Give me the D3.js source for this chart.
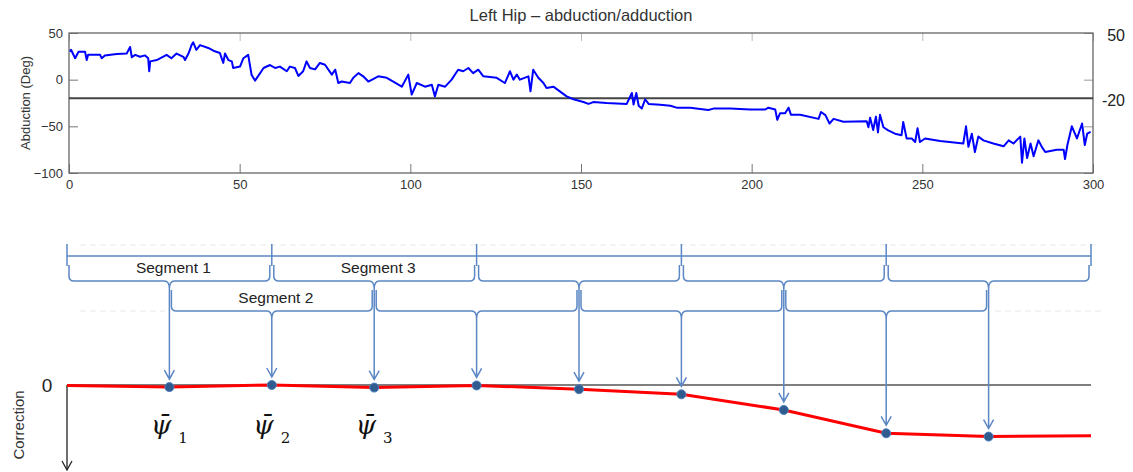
<!DOCTYPE html>
<html>
<head>
<meta charset="utf-8">
<script src="https://d3js.org/d3.v7.min.js"></script>
<style>
body { margin: 0; background: #fff; }
svg { display: block; font-family: 'Liberation Sans', Arial, sans-serif; }
</style>
</head>
<body>
<svg width="1133" height="472"></svg>
<script>
// top panel: hip abduction trace
var hipTime = [0.3, 0.6, 1.8, 2.8, 4.7, 5.2, 5.6, 9.1, 9.6, 10.5, 14, 16.9, 17.9, 18.4, 19.4, 20.8, 22.3, 23.2, 23.5, 23.8,
  25.7, 28.6, 30, 31.5, 33.5, 34, 35, 35.9, 36.4, 37.3, 38.4, 40.8, 42.3, 44.2, 45.2, 45.7, 46.7, 47.7, 48.1, 50.1,
  51.1, 52.5, 53.5, 54.5, 56, 57, 58.9, 60.4, 61.8, 63.8, 64.7, 66.2, 67.2, 68.6, 69.6, 70.6, 72.1, 73.5, 75, 77,
  78, 78.9, 79.9, 82.3, 83.3, 84.8, 86.2, 87.7, 90.6, 93.1, 95, 97.5, 99.4, 100.4, 101.9, 104.3, 106.3, 107.2, 108.2, 110.2,
  112.1, 114, 115.5, 117, 118.4, 119.9, 121.4, 125.3, 127.7, 129.2, 130.2, 131.2, 132.1, 134.6, 135.2, 136, 137.5, 139, 139.9, 141.9,
  143.8, 145.8, 147.8, 150.7, 152.2, 153.6, 157.5, 163.4, 164.9, 165.4, 166.2, 166.9, 167.8, 168.8, 169.8, 173.2, 176.2, 178, 182, 187.3,
  188.8, 193.7, 199.5, 203.9, 204.9, 206.9, 207.5, 208.3, 209.8, 210.8, 211.5, 214.2, 219.6, 220.3, 221.6, 222.8, 224, 226.9, 233.7, 234.2,
  234.7, 235.6, 236.4, 237, 237.6, 238.6, 240, 242, 243.9, 244.4, 245.4, 246.9, 247.9, 248.6, 249.3, 250.8, 255.2, 262, 262.8, 263.5,
  264.5, 265.4, 266.4, 267.9, 270.8, 273.8, 275.3, 276.7, 278.7, 279.2, 279.9, 280.7, 281.7, 282.6, 284, 285, 286, 289.4, 291.4, 291.8,
  292.5, 293.8, 295.3, 296.8, 297.6, 298.3, 299.3]
var hipAbduction = [30, 32, 23, 30, 30, 21, 26.6, 26.6, 23, 26, 27.4, 28, 35, 24, 26.6, 24.5, 26, 23, 9, 19.6,
  21, 26.6, 23, 28, 24.5, 21, 28, 37, 40, 32, 37, 34, 31, 28.6, 18, 28, 21, 19.6, 12.5, 14,
  23, 26.6, 5, -1, 7, 12.5, 15.7, 12.5, 14, 9, 14, 12.5, 4, 9, 19.6, 12.5, 11, 17.9, 16, 5.4,
  10.7, -3.6, -2, -3.6, 2, 7, 3.6, -2, 3.6, 2, -2, -7.5, 5.4, -16, -3.6, -7.5, -5.4, -17.9, -5.4, -7.5,
  0, 10.7, 9, 12.5, 7, 10.7, 3.6, 2, -3.6, 9, 0, 5.4, 0, 3.6, -12.5, 10.7, 2, -3.6, -9, -7.5,
  -12.5, -17.9, -21, -23.9, -26, -24, -25, -26, -14.3, -26.6, -14.3, -28, -31, -21, -26, -27, -28, -30, -30, -32.5,
  -31, -31, -32, -32, -30, -32, -43, -36, -36, -30, -37.5, -37.5, -42, -34.6, -38, -47, -42, -45, -44.6, -51,
  -40.7, -54, -39.6, -56.5, -37.5, -51, -54.3, -57.9, -59.6, -45.3, -63, -63, -66.8, -52, -66.8, -63, -65.6, -68.4, -50, -72,
  -57.9, -77.5, -61, -65, -68.4, -71.4, -65, -68.4, -61, -89, -63, -84, -68.4, -82, -65, -72, -77.5, -75, -75, -85,
  -70, -50, -63, -47, -70, -57.9, -56]
var xTicks = [0, 50, 100, 150, 200, 250, 300]
var yTicks = [50, 0, -50, -100]
var refLevel = -20
var sideLabels = [50, -20]

// bottom panel: overlapping 60 s segments and the correction per segment
var segLength = 60
var segStarts = [[0, 60, 120, 180, 240], [30, 90, 150, 210]]
var segNames = ['Segment 1', 'Segment 2', 'Segment 3']
var psiTime = [30, 60, 90, 120, 150, 180, 210, 240, 270]
var psiCorrection = [-0.9, 0, -1.1, -0.2, -1.8, -4, -10.7, -20.7, -22.1]
var lineTime = [0].concat(psiTime, [300])
var lineCorrection = [-0.2].concat(psiCorrection, [-21.7])
var psiLabels = ['1', '2', '3']

var svg = d3.select('svg')
var blueish = '#5b87c5'

// ---- top panel
var x = d3.scaleLinear().domain([0, 300]).range([69, 1093])
var y = d3.scaleLinear().domain([-100, 50]).range([173, 33])

svg.append('text')
  .attr('x', (x.range()[0] + x.range()[1])/2).attr('y', 21)
  .attr('text-anchor', 'middle')
  .style('font-size', '16.5px').style('fill', '#333')
  .text('Left Hip \u2013 abduction/adduction')

var xAxis = svg.append('g')
  .attr('transform', 'translate(0,173)')
  .call(d3.axisBottom(x).tickValues(xTicks).tickSizeInner(-9).tickSizeOuter(0).tickPadding(7))
var yAxis = svg.append('g')
  .attr('transform', 'translate(69,0)')
  .call(d3.axisLeft(y).tickValues(yTicks).tickSizeInner(-9).tickSizeOuter(0).tickPadding(6))
svg.append('g')
  .attr('transform', 'translate(0,33)')
  .call(d3.axisTop(x).tickValues(xTicks).tickSizeInner(-8).tickSizeOuter(0).tickFormat(''))
  .selectAll('line').attr('stroke', '#bbb')
svg.append('g')
  .attr('transform', 'translate(1093,0)')
  .call(d3.axisRight(y).tickValues(yTicks).tickSizeInner(-9).tickSizeOuter(0).tickFormat(''))
  .selectAll('line').attr('stroke', '#999')

svg.selectAll('.domain').remove()
;[xAxis, yAxis].forEach(a => {
  a.selectAll('line').attr('stroke', '#777')
  a.selectAll('text').style('font-size', '13px').style('fill', '#333').style('font-family', null)
})

svg.append('rect')
  .attr('x', x(0)).attr('y', y(50))
  .attr('width', x(300) - x(0)).attr('height', y(-100) - y(50))
  .attr('fill', 'none').attr('stroke', '#666').attr('stroke-width', 1.3)

svg.append('line')
  .attr('x1', x(0)).attr('x2', x(300))
  .attr('y1', y(refLevel)).attr('y2', y(refLevel))
  .attr('stroke', '#444').attr('stroke-width', 2)

var hipData = hipTime.map((t, i) => [t, hipAbduction[i]])
svg.append('path')
  .datum(hipData)
  .attr('d', d3.line().x(d => x(d[0])).y(d => y(d[1])))
  .attr('fill', 'none').attr('stroke', '#0000ff').attr('stroke-width', 2)
  .attr('stroke-linejoin', 'round')

svg.append('text')
  .attr('transform', 'translate(25,' + y(-25) + ') rotate(-90)')
  .attr('text-anchor', 'middle').attr('dy', '0.35em')
  .style('font-size', '13px').style('fill', '#333')
  .text('Abduction (Deg)')

svg.selectAll('.side-label').data(sideLabels).join('text')
  .attr('x', 1125).attr('y', d => y(d) + 2)
  .attr('text-anchor', 'end').attr('dy', '0.35em')
  .style('font-size', '16px').style('fill', '#222')
  .text(d => d)

// ---- bottom panel
var xb = d3.scaleLinear().domain([0, 300]).range([67, 1091])
var yb = d3.scaleLinear().domain([0, -30]).range([385, 455])

// faint slide guides
var guides = [[245, 80, 1100], [311, 80, 165], [311, 995, 1105]]
svg.selectAll('.guide').data(guides).join('line')
  .attr('x1', d => d[1]).attr('x2', d => d[2])
  .attr('y1', d => d[0]).attr('y2', d => d[0])
  .attr('stroke', '#e8e8e8').attr('stroke-dasharray', '6,4')

var rows = [{yLine: 281, h: 16, cusp: 8}, {yLine: 311, h: 21, cusp: 8}]

// ruler across the top of the segments
svg.append('line')
  .attr('x1', xb(0)).attr('x2', xb(300)).attr('y1', 256).attr('y2', 256)
  .attr('stroke', blueish).attr('stroke-width', 1.5)
svg.selectAll('.ruler-tick').data(segStarts[0].concat([300])).join('line')
  .attr('x1', d => xb(d)).attr('x2', d => xb(d))
  .attr('y1', 244).attr('y2', 266)
  .attr('stroke', blueish).attr('stroke-width', 1.5)

function bracePath(x0, x1, row){
  var r = 5, yl = row.yLine, xm = (x0 + x1)/2
  return `M${x0},${yl - row.h} L${x0},${yl - r} Q${x0},${yl} ${x0 + r},${yl}
    L${xm - r},${yl} Q${xm},${yl} ${xm},${yl + row.cusp} Q${xm},${yl} ${xm + r},${yl}
    L${x1 - r},${yl} Q${x1},${yl} ${x1},${yl - r} L${x1},${yl - row.h}`
}

segStarts.forEach((starts, ri) => {
  svg.selectAll('.brace' + ri).data(starts).join('path')
    .attr('d', d => bracePath(xb(d) + 2, xb(d + segLength) - 2, rows[ri]))
    .attr('fill', 'none').attr('stroke', blueish).attr('stroke-width', 1.5)
})

segNames.forEach((name, i) => {
  var row = i % 2
  svg.append('text')
    .attr('x', xb(psiTime[i]) + 4).attr('y', row ? 303 : 273)
    .attr('text-anchor', 'middle')
    .style('font-size', '15.5px').style('fill', '#222')
    .text(name)
})

// zero line and correction axis
svg.append('line')
  .attr('x1', xb(0)).attr('x2', xb(300)).attr('y1', yb(0)).attr('y2', yb(0))
  .attr('stroke', '#555').attr('stroke-width', 1.6)

svg.append('line')
  .attr('x1', xb(0)).attr('x2', xb(0)).attr('y1', yb(0)).attr('y2', 470)
  .attr('stroke', '#222').attr('stroke-width', 1.3)
svg.append('path')
  .attr('d', `M${xb(0) - 5},461 L${xb(0)},470 L${xb(0) + 5},461`)
  .attr('fill', 'none').attr('stroke', '#222').attr('stroke-width', 1.3)

svg.append('text')
  .attr('x', 47).attr('y', yb(0)).attr('dy', '0.35em')
  .attr('text-anchor', 'middle')
  .style('font-size', '19px').style('fill', '#222')
  .text('0')
svg.append('text')
  .attr('transform', 'translate(19,425) rotate(-90)')
  .attr('text-anchor', 'middle').attr('dy', '0.35em')
  .style('font-size', '15px').style('fill', '#333')
  .text('Correction')

// arrows from each brace down to its correction point
var arrows = psiTime.map((t, i) => ({t, c: psiCorrection[i], row: rows[i % 2]}))
svg.selectAll('.arrow').data(arrows).join('path')
  .attr('d', d => {
    var ax = xb(d.t), y0 = d.row.yLine + d.row.cusp, tip = yb(d.c) - 8
    return `M${ax},${y0} L${ax},${tip} M${ax - 5},${tip - 9} L${ax},${tip} L${ax + 5},${tip - 9}`
  })
  .attr('fill', 'none').attr('stroke', blueish).attr('stroke-width', 1.5)

var corrData = lineTime.map((t, i) => [t, lineCorrection[i]])
svg.append('path')
  .datum(corrData)
  .attr('d', d3.line().x(d => xb(d[0])).y(d => yb(d[1])))
  .attr('fill', 'none').attr('stroke', '#ff0000').attr('stroke-width', 3)

svg.selectAll('.psi-pt').data(arrows).join('circle')
  .attr('cx', d => xb(d.t)).attr('cy', d => yb(d.c)).attr('r', 4.5)
  .attr('fill', '#2f5b8f').attr('stroke', '#4f7fbf').attr('stroke-width', 1)

var psiText = svg.selectAll('.psi').data(psiLabels).join('text')
  .attr('x', (d, i) => xb(psiTime[i])).attr('y', 434)
  .attr('text-anchor', 'middle')
  .style('fill', '#111')
psiText.append('tspan')
  .style('font-family', "'DejaVu Serif', serif").style('font-style', 'italic').style('font-size', '26px')
  .text('\u03c8\u0304')
psiText.append('tspan')
  .attr('dx', 7).attr('dy', 9)
  .style('font-family', "'DejaVu Serif', serif").style('font-size', '15px')
  .text(d => d)
</script>
</body>
</html>
